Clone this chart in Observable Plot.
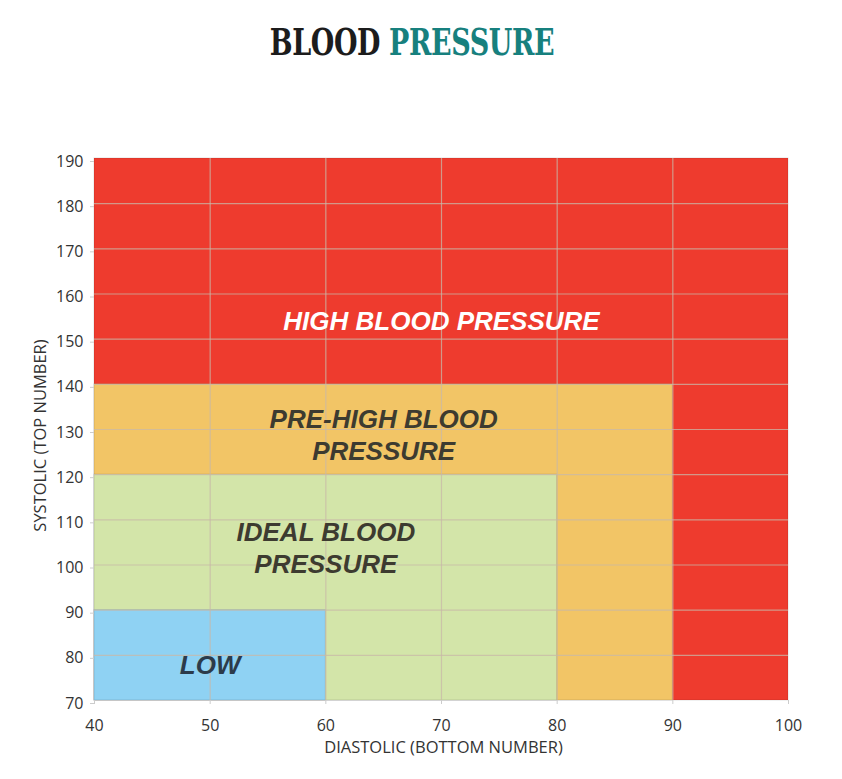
<!DOCTYPE html>
<html>
<head>
<meta charset="utf-8">
<script src="https://cdn.jsdelivr.net/npm/d3@7"></script>
<script src="https://cdn.jsdelivr.net/npm/@observablehq/plot@0.6"></script>
<style>
  html, body { margin: 0; padding: 0; background: #fff; }
  #wrap { position: relative; width: 842px; height: 779px; overflow: hidden; }
  #title {
    position: absolute; top: 19px; left: 412px;
    transform: translateX(-50%) scaleX(0.79);
    font-family: "DejaVu Serif", serif; font-stretch: condensed; font-weight: bold;
    font-size: 38px; white-space: nowrap; letter-spacing: -0.5px;
  }
  #title .a { color: #1c1c1c; }
  #title .b { color: #17807e; }
  #chart { position: absolute; top: 90px; left: 0; }
</style>
</head>
<body>
<div id="wrap">
  <div id="title"><span class="a">BLOOD</span> <span class="b">PRESSURE</span></div>
  <div id="chart"></div>
</div>
<script>
// Blood pressure zones: diastolic (x) and systolic (y) ranges
const zones = ["High", "Pre-high", "Ideal", "Low"];
const diastolicFrom = [40, 40, 40, 40];
const diastolicTo = [100, 90, 80, 60];
const systolicFrom = [70, 70, 70, 70];
const systolicTo = [190, 140, 120, 90];
const zoneColors = ["#ee3b2e", "#f2c566", "#d3e5a9", "#8fd2f3"];

// Zone labels and where they sit (in data units)
const labelText = ["HIGH BLOOD PRESSURE", "PRE-HIGH BLOOD\nPRESSURE", "IDEAL BLOOD\nPRESSURE", "LOW"];
const labelDiastolic = [70, 65, 60, 50];
const labelSystolic = [154.2, 129, 104, 78.2];
const labelInk = ["#ffffff", "#3d3b30", "#3d3b30", "#2c3b4a"];

// Axis ticks
const xTicks = [40, 50, 60, 70, 80, 90, 100];
const yTicks = [70, 80, 90, 100, 110, 120, 130, 140, 150, 160, 170, 180, 190];

const rects = zones.map((z, i) => ({
  zone: z, x1: diastolicFrom[i], x2: diastolicTo[i], y1: systolicFrom[i], y2: systolicTo[i]
}));
const labels = labelText.map((t, i) => ({
  text: t, x: labelDiastolic[i], y: labelSystolic[i], ink: labelInk[i]
}));

const chart = Plot.plot({
  width: 842,
  height: 689,
  marginTop: 68,
  marginBottom: 79,
  marginLeft: 94,
  marginRight: 54,
  style: { fontFamily: "'Open Sans', 'Liberation Sans', sans-serif", fontSize: "16px", color: "#333" },
  x: { domain: [40, 100], label: null },
  y: { domain: [70, 190], label: null },
  color: { domain: zones, range: zoneColors },
  marks: [
    Plot.rect(rects, { x1: "x1", x2: "x2", y1: "y1", y2: "y2", fill: "zone", stroke: "#000", strokeOpacity: 0.12, strokeWidth: 1 }),
    Plot.gridX(xTicks.slice(1, -1), { stroke: "#c8b8a8", strokeOpacity: 0.75, strokeWidth: 1.2 }),
    Plot.gridY(yTicks.slice(1, -1), { stroke: "#c8b8a8", strokeOpacity: 0.75, strokeWidth: 1.2 }),
    Plot.axisX({ ticks: xTicks, tickSize: 4, tickPadding: 15, stroke: "#ccc", fill: "#333", fontSize: 16, label: null }),
    Plot.axisY({ ticks: yTicks, tickSize: 4, tickPadding: 7, stroke: "#ccc", fill: "#333", fontSize: 16, label: null, dy: 3 }),
    Plot.text(["DIASTOLIC (BOTTOM NUMBER)"], { frameAnchor: "bottom", dy: 52, dx: 2, fill: "#333", fontSize: 16.5 }),
    Plot.text(["SYSTOLIC (TOP NUMBER)"], { frameAnchor: "left", textAnchor: "middle", dx: -54, dy: 6, rotate: -90, fill: "#333", fontSize: 16.5 }),
    Plot.text(labels, {
      x: "x", y: "y", text: "text", fill: "ink",
      fontFamily: "'Liberation Sans Narrow', 'Liberation Sans', sans-serif",
      fontWeight: "bold", fontStyle: "italic", fontSize: 26, lineHeight: 1.23
    })
  ]
});
document.getElementById("chart").appendChild(chart);
</script>
</body>
</html>
